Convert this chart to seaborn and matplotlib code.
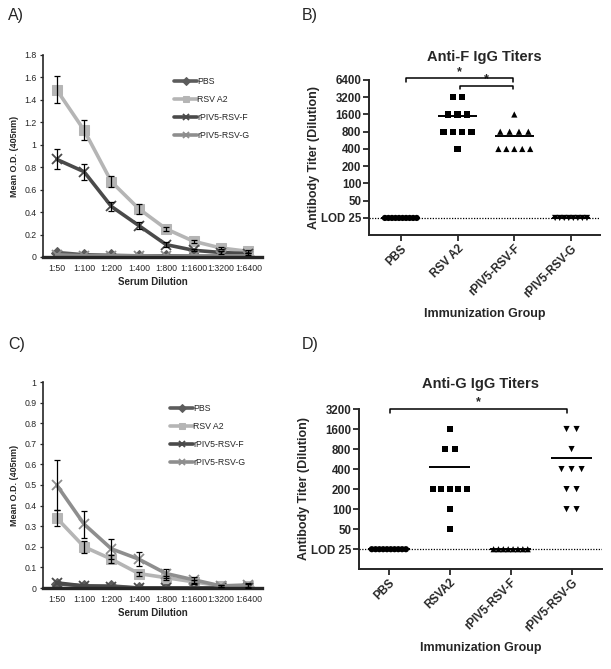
import numpy as np
import pandas as pd
import matplotlib
matplotlib.use("Agg")
import matplotlib.pyplot as plt
import seaborn as sns

# ---------------- data ----------------
dilutions = ["1:50", "1:100", "1:200", "1:400", "1:800", "1:1600", "1:3200", "1:6400"]
line_groups = ["PBS", "RSV A2", "rPIV5-RSV-F", "rPIV5-RSV-G"]

# Panel A (anti-F ELISA)
a_pbs = [0.04, 0.02, 0.015, 0.01, 0.01, 0.01, 0.01, 0.01]
a_pbs_err = [0, 0, 0, 0, 0, 0, 0, 0]
a_rsv = [1.49, 1.13, 0.67, 0.43, 0.25, 0.14, 0.08, 0.05]
a_rsv_err = [0.12, 0.09, 0.05, 0.045, 0.02, 0.015, 0.01, 0.01]
a_f = [0.87, 0.76, 0.45, 0.28, 0.11, 0.06, 0.04, 0.03]
a_f_err = [0.09, 0.07, 0.04, 0.03, 0.02, 0.01, 0.01, 0.01]
a_g = [0.02, 0.01, 0.01, 0.01, 0.005, 0.01, 0.01, 0.01]
a_g_err = [0, 0, 0, 0, 0, 0, 0, 0]

# Panel C (anti-G ELISA)
c_pbs = [0.02, 0.01, 0.01, 0.0, 0.0, 0.0, 0.0, 0.005]
c_pbs_err = [0, 0, 0, 0, 0, 0, 0, 0]
c_rsv = [0.34, 0.20, 0.14, 0.07, 0.05, 0.03, 0.01, 0.01]
c_rsv_err = [0.04, 0.03, 0.02, 0.01, 0.01, 0.01, 0.005, 0.01]
c_f = [0.025, 0.01, 0.005, 0.0, 0.0, 0.0, 0.0, 0.0]
c_f_err = [0, 0, 0, 0, 0, 0, 0, 0]
c_g = [0.50, 0.31, 0.19, 0.14, 0.07, 0.04, 0.01, 0.015]
c_g_err = [0.12, 0.065, 0.05, 0.035, 0.02, 0.015, 0.005, 0.01]

# Panel B (anti-F titers)
b_groups = ["PBS", "RSV A2", "rPIV5-RSV-F", "rPIV5-RSV-G"]
b_pbs = [25] * 10
b_rsv = [3200, 3200, 1600, 1600, 1600, 800, 800, 800, 800, 400]
b_f = [1600, 800, 800, 800, 800, 400, 400, 400, 400, 400]
b_g = [25] * 8

# Panel D (anti-G titers)
d_groups = ["PBS", "RSVA2", "rPIV5-RSV-F", "rPIV5-RSV-G"]
d_pbs = [25] * 10
d_rsv = [1600, 800, 800, 200, 200, 200, 200, 200, 100, 50]
d_f = [25] * 8
d_g = [1600, 1600, 800, 400, 400, 400, 200, 200, 100, 100]

titer_ticks = [25, 50, 100, 200, 400, 800, 1600, 3200, 6400]
titer_labels = ["LOD 25", "50", "100", "200", "400", "800", "1600", "3200", "6400"]

# ---------------- style ----------------
sns.set_theme(style="ticks")
plt.rcParams["font.family"] = ["Liberation Sans", "DejaVu Sans"]
plt.rcParams["axes.linewidth"] = 1.2

line_palette = {"PBS": "#5c5c5c", "RSV A2": "#b5b5b5",
                "rPIV5-RSV-F": "#4a4a4a", "rPIV5-RSV-G": "#8e8e8e"}
line_markers = {"PBS": "D", "RSV A2": "s", "rPIV5-RSV-F": "X", "rPIV5-RSV-G": "X"}

fig = plt.figure(figsize=(6.11, 6.69), dpi=100)
W, H = 611, 669


def ax_px(l, t, r, b):
    return fig.add_axes([l / W, 1 - b / H, (r - l) / W, (b - t) / H])


def restyle_markers(lines, size):
    for ln in lines:
        ln.set_markeredgecolor(ln.get_color())
        if ln.get_marker() == "X":
            ln.set_marker("x")
            ln.set_markeredgewidth(1.3)
            ln.set_markersize(size)


def line_panel(ax, series, ymax, ystep, legend_xy):
    rows = []
    for g, (vals, errs) in series.items():
        for i, (v, e) in enumerate(zip(vals, errs)):
            rows.append(dict(group=g, pos=i, od=v, err=e))
    df = pd.DataFrame(rows)
    sns.lineplot(data=df, x="pos", y="od", hue="group", style="group",
                 hue_order=line_groups, style_order=line_groups,
                 palette=line_palette, markers=line_markers, dashes=False,
                 linewidth=2.6, markersize=6.5, errorbar=None, ax=ax)
    restyle_markers(list(ax.lines), 7.5)
    handles, labels = ax.get_legend_handles_labels()
    keep = [(h, l) for h, l in zip(handles, labels) if l in line_groups]
    leg = ax.legend([k[0] for k in keep], [k[1] for k in keep], frameon=False,
                    fontsize=6.3, handlelength=2.6, handletextpad=0.0, labelspacing=1.0,
                    borderpad=0, loc="upper left", bbox_to_anchor=legend_xy,
                    bbox_transform=fig.transFigure, markerscale=0.6)
    restyle_markers(leg.get_lines(), 4.5)
    sub = df[df["err"] > 0]
    ax.errorbar(sub["pos"], sub["od"], yerr=sub["err"], fmt="none",
                ecolor="black", elinewidth=0.9, capsize=2.5, capthick=0.9, zorder=5)
    ax.set_xlim(-0.5, 7.5)
    ax.set_ylim(0, ymax)
    ticks = np.round(np.arange(0, ymax + 1e-9, ystep), 2)
    ax.set_yticks(ticks)
    ax.set_yticklabels([f"{t:g}" for t in ticks])
    ax.set_xticks(range(len(dilutions)))
    ax.set_xticklabels(dilutions)
    ax.tick_params(axis="both", labelsize=6.3, length=2.5, width=0.9, pad=2)
    ax.tick_params(axis="x", length=0, pad=5)
    ax.spines["right"].set_visible(False)
    ax.spines["top"].set_visible(False)
    ax.spines["bottom"].set_linewidth(2.4)
    ax.spines["left"].set_linewidth(1.2)
    ax.set_xlabel("Serum Dilution", fontsize=7, fontweight="bold", labelpad=3)
    ax.set_ylabel("Mean O.D. (405nm)", fontsize=6.5, fontweight="bold", labelpad=4)


def titer_frame(groups, values_list):
    rows = []
    for gi, (g, vals) in enumerate(zip(groups, values_list)):
        s = pd.Series(vals)
        for v, cnt in s.value_counts(sort=False).items():
            step = min(0.165, 0.56 / (cnt - 1)) if cnt > 1 else 0.0
            offs = (np.arange(cnt) - (cnt - 1) / 2) * step
            for o in offs:
                rows.append(dict(group=g, pos=gi + o, titer=v))
    return pd.DataFrame(rows)


def titer_panel(ax, groups, values_list, title, ytop, xlim, sig_bars, title_pad):
    df = titer_frame(groups, values_list)
    marks = dict(zip(groups, ["o", "s", "^", "v"]))
    sns.scatterplot(data=df, x="pos", y="titer", style="group", markers=marks,
                    color="black", s=20, linewidth=0, legend=False, ax=ax, zorder=3)
    for gi, vals in enumerate(values_list):
        m = float(np.mean(vals))
        ax.hlines(m, gi - 0.34, gi + 0.34, color="black", linewidth=1.4, zorder=4)
    ax.set_yscale("log", base=2)
    ax.set_ylim(12.6, ytop)
    ticks = [t for t in titer_ticks if t <= ytop]
    ax.set_yticks(ticks)
    ax.set_yticklabels(titer_labels[:len(ticks)])
    ax.yaxis.set_minor_locator(matplotlib.ticker.NullLocator())
    ax.set_xlim(*xlim)
    ax.set_xticks(range(len(groups)))
    ax.set_xticklabels(groups, rotation=45, ha="right", rotation_mode="anchor")
    ax.axhline(25, color="black", linestyle=(0, (1, 1.2)), linewidth=0.9, zorder=2)
    ax.spines["right"].set_visible(False)
    ax.spines["top"].set_visible(False)
    ax.spines["left"].set_bounds(12.6, ytop)
    for sp in ("left", "bottom"):
        ax.spines[sp].set_linewidth(1.4)
    ax.tick_params(axis="both", labelsize=8.3, length=4, width=1.3, pad=1.5)
    for lab in ax.get_xticklabels() + ax.get_yticklabels():
        lab.set_fontweight("bold")
    ax.set_xlabel("Immunization Group", fontsize=9, fontweight="bold", labelpad=6)
    ax.set_ylabel("Antibody Titer (Dilution)", fontsize=9, fontweight="bold", labelpad=1)
    ax.set_title(title, fontsize=10.5, fontweight="bold", pad=title_pad)
    for (x0, x1, y) in sig_bars:
        dy = 2 ** -0.22
        ax.plot([x0, x0, x1, x1], [y * dy, y, y, y * dy], color="black",
                linewidth=1.1, clip_on=False, zorder=5)
        ax.text((x0 + x1) / 2, y * 2 ** 0.0, "*", ha="center", va="bottom",
                fontsize=9, fontweight="bold", clip_on=False)


axA = ax_px(43, 55, 262, 257)
line_panel(axA, {"PBS": (a_pbs, a_pbs_err), "RSV A2": (a_rsv, a_rsv_err),
                 "rPIV5-RSV-F": (a_f, a_f_err), "rPIV5-RSV-G": (a_g, a_g_err)},
           1.8, 0.2, (170 / W, 1 - 73 / H))

axC = ax_px(43, 382, 262, 588)
line_panel(axC, {"PBS": (c_pbs, c_pbs_err), "RSV A2": (c_rsv, c_rsv_err),
                 "rPIV5-RSV-F": (c_f, c_f_err), "rPIV5-RSV-G": (c_g, c_g_err)},
           1.0, 0.1, (166 / W, 1 - 400 / H))

axB = ax_px(369, 80, 600, 235)
titer_panel(axB, b_groups, [b_pbs, b_rsv, b_f, b_g], "Anti-F IgG Titers", 6400,
            (-0.56, 3.51), [(0.1, 1.98, 6900), (1.04, 1.98, 5100)], 14)

axD = ax_px(359, 409, 602, 569)
titer_panel(axD, d_groups, [d_pbs, d_rsv, d_f, d_g], "Anti-G IgG Titers", 3200,
            (-0.49, 3.5), [(0.02, 2.93, 3250)], 15)

for lab, x, y in [("A)", 8, 8), ("B)", 302, 8), ("C)", 8, 337), ("D)", 302, 337)]:
    fig.text(x / W, 1 - y / H, lab, fontsize=11.5, va="top", ha="left")

fig.savefig("out.png", dpi=100)
